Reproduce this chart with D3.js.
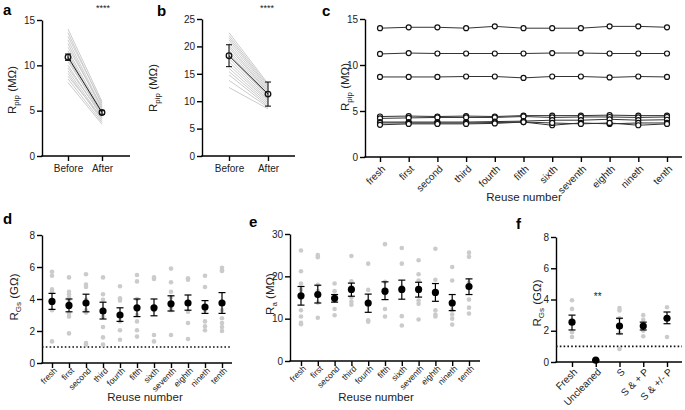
<!DOCTYPE html>
<html>
<head>
<meta charset="utf-8">
<script src="https://cdn.jsdelivr.net/npm/d3@7"></script>
<style>
  body { margin: 0; background: #fff; }
  text { font-family: "Liberation Sans", Arial, Helvetica, sans-serif; }
</style>
</head>
<body>
<svg id="fig" width="685" height="410"></svg>
<script>
"use strict";

// --- data ---
var pairLabels = ["Before", "After"];

// panel a : pipette resistance before / after (MOhm)
var aBefore = [14.0, 13.6, 13.2, 12.8, 12.4, 12.0, 11.6, 11.3, 11.0, 10.7, 10.4, 10.0, 9.7, 9.4, 9.1, 8.8, 8.5, 8.1];
var aAfter  = [6.0, 5.6, 5.8, 5.3, 5.1, 5.4, 4.9, 4.6, 4.9, 4.4, 4.7, 4.3, 4.5, 4.1, 3.9, 4.2, 3.7, 3.5];
var aMean = [10.9, 4.8];
var aErr  = [0.35, 0.2];

// panel b
var bBefore = [22.5, 22.0, 21.6, 21.2, 20.7, 20.2, 19.8, 19.3, 18.8, 18.3, 17.8, 17.2, 16.6, 16.0, 15.4, 14.8, 13.8, 12.5];
var bAfter  = [13.2, 12.9, 12.6, 12.3, 12.0, 11.7, 11.5, 11.2, 11.0, 10.8, 10.5, 10.2, 10.0, 9.7, 9.4, 9.1, 8.9, 8.6];
var bMean = [18.3, 11.3];
var bErr  = [2.0, 2.2];

// panel c : pipette resistance over reuses
var reuseLabels = ["fresh", "first", "second", "third", "fourth", "fifth", "sixth", "seventh", "eighth", "nineth", "tenth"];
var cLines = [
  [14.0, 14.1, 14.1, 14.0, 14.2, 14.0, 14.0, 14.0, 14.2, 14.2, 14.1],
  [11.2, 11.3, 11.25, 11.25, 11.25, 11.25, 11.3, 11.3, 11.25, 11.25, 11.25],
  [8.7, 8.7, 8.7, 8.75, 8.75, 8.6, 8.75, 8.75, 8.65, 8.75, 8.7],
  [4.4, 4.45, 4.4, 4.45, 4.4, 4.5, 4.5, 4.5, 4.55, 4.5, 4.5],
  [4.2, 4.25, 4.3, 4.3, 4.3, 4.4, 4.3, 4.35, 4.35, 4.3, 4.35],
  [3.8, 3.8, 3.8, 3.8, 3.85, 3.9, 4.0, 4.0, 4.1, 4.0, 4.05],
  [3.7, 3.7, 3.7, 3.7, 3.75, 3.8, 3.45, 3.7, 3.6, 3.7, 3.7],
  [3.5, 3.6, 3.6, 3.6, 3.65, 3.8, 3.7, 3.6, 3.7, 3.45, 3.6]
];

// panel d : seal resistance over reuses (GOhm)
var dPoints = [
  [5.7, 5.45, 4.6, 4.45, 3.9, 3.3, 1.35],
  [5.35, 4.45, 4.3, 4.1, 3.9, 3.5, 3.1, 2.9, 1.85],
  [5.55, 4.9, 4.75, 3.95, 3.3, 3.15, 1.25, 1.15],
  [5.35, 4.3, 3.95, 2.9, 2.25, 1.6, 1.15],
  [4.8, 4.05, 3.9, 3.05, 2.6, 2.05, 1.45],
  [5.5, 5.1, 4.0, 3.0, 2.6, 2.05, 1.65],
  [5.35, 5.25, 3.3, 1.75, 1.35],
  [5.9, 5.05, 4.45, 4.1, 3.4, 3.3, 1.75],
  [5.3, 5.2, 3.2, 2.5, 1.5],
  [5.45, 4.75, 3.3, 2.6, 2.3, 2.05],
  [5.95, 5.8, 5.75, 3.3, 2.8, 2.5, 2.25, 2.0]
];
var dMean = [3.85, 3.6, 3.75, 3.25, 3.0, 3.45, 3.45, 3.7, 3.75, 3.5, 3.75];
var dLo   = [3.35, 3.2, 3.2, 2.75, 2.6, 2.9, 2.95, 3.25, 3.3, 3.1, 3.1];
var dHi   = [4.35, 4.0, 4.3, 3.8, 3.45, 4.0, 4.0, 4.2, 4.25, 3.9, 4.4];

// panel e : access resistance over reuses (MOhm)
var ePoints = [
  [26.1, 21.2, 18.3, 16.8, 12.0, 10.5, 9.0, 8.7],
  [25.0, 24.5, 18.0, 16.5, 13.8, 10.2],
  [18.3, 16.5, 14.5, 12.3, 10.8],
  [24.8, 18.8, 17.5, 15.0, 14.0, 13.3],
  [23.0, 16.8, 14.0, 9.6, 9.3],
  [27.6, 18.7, 16.0, 12.3, 10.5],
  [26.7, 23.0, 17.5, 10.6, 8.4],
  [23.8, 20.5, 19.0, 14.3, 13.5, 9.8],
  [26.5, 19.2, 12.0, 11.0, 10.5],
  [22.2, 19.0, 12.0, 11.0, 10.0, 8.6],
  [25.6, 24.6, 18.5, 14.5, 12.6, 11.2]
];
var eMean = [15.4, 15.7, 14.8, 16.9, 13.7, 16.5, 16.9, 16.9, 16.2, 13.7, 17.6];
var eLo   = [13.2, 13.7, 13.9, 15.3, 11.5, 14.5, 14.6, 15.1, 14.1, 11.9, 15.7];
var eHi   = [17.6, 17.9, 15.7, 18.4, 15.8, 18.7, 19.1, 18.6, 18.3, 15.7, 19.4];

// panel f : seal resistance by cleaning method (GOhm)
var fLabels = ["Fresh", "Uncleaned", "S", "S & + P", "S & +/- P"];
var fPoints = [
  [3.95, 3.4, 1.9, 1.6],
  [0.1],
  [3.45, 3.3, 2.8, 1.85, 0.83],
  [3.0, 2.7, 2.25, 2.0, 1.65],
  [3.5, 2.8, 1.6]
];
var fMean = [2.55, 0.12, 2.3, 2.3, 2.8];
var fLo   = [2.05, 0.1, 1.8, 2.05, 2.45];
var fHi   = [3.0, 0.14, 2.8, 2.55, 3.2];

var svg = d3.select("#fig");
var grey = "#cbcbcb";

// builds axes for one panel, returns the scales
function makePanel(p) {
  var g = svg.append("g");
  var y = d3.scaleLinear().domain([0, p.ymax]).range([p.y0, p.y1]);
  var x = d3.scalePoint().domain(p.cats).range([p.xa, p.xb]);

  g.append("g")
    .attr("transform", "translate(" + p.x0 + ",0)")
    .call(d3.axisLeft(y).tickValues(p.yticks).tickSize(5).tickSizeOuter(0).tickPadding(2));

  var xa = g.append("g")
    .attr("transform", "translate(0," + p.y0 + ")")
    .call(d3.axisBottom(x).tickSize(5).tickSizeOuter(0).tickPadding(4));
  xa.select(".domain").remove();

  g.append("line")
    .attr("x1", p.x0 - 0.7).attr("x2", p.x1)
    .attr("y1", p.y0).attr("y2", p.y0)
    .attr("stroke", "#000").attr("stroke-width", 1.4);

  g.selectAll(".tick line, .domain").attr("stroke", "#000").attr("stroke-width", 1.4);
  g.selectAll(".tick text").attr("font-size", 10).attr("fill", "#222");

  if (p.rotate) {
    xa.selectAll(".tick text")
      .attr("text-anchor", "end")
      .attr("font-size", p.rotSize)
      .attr("y", null)
      .attr("dy", "0.35em")
      .attr("transform", "translate(3," + p.rotDy + ") rotate(-45)");
  }

  // y label with subscript
  var yl = g.append("text")
    .attr("transform", "translate(" + p.ylx + "," + p.yly + ") rotate(-90)")
    .attr("text-anchor", "middle")
    .attr("font-size", 11.5)
    .attr("fill", "#222");
  yl.append("tspan").text("R");
  yl.append("tspan").attr("font-size", 8).attr("dy", 3).text(p.sub);
  yl.append("tspan").attr("dy", -3).text(" " + p.unit);

  if (p.xtitle) {
    g.append("text")
      .attr("x", p.xtx).attr("y", p.xty)
      .attr("text-anchor", "middle")
      .attr("font-size", 11.5)
      .attr("fill", "#222")
      .text(p.xtitle);
  }

  svg.append("text")
    .attr("x", p.lx).attr("y", p.ly)
    .attr("font-size", 15).attr("font-weight", "bold")
    .text(p.letter);

  return { g: g, x: x, y: y };
}

function errBars(g, x, y, cats, lo, hi, cap, w) {
  cats.forEach(function(c, i) {
    var cx = x(c);
    g.append("line").attr("x1", cx).attr("x2", cx).attr("y1", y(lo[i])).attr("y2", y(hi[i]))
      .attr("stroke", "#000").attr("stroke-width", w);
    [lo[i], hi[i]].forEach(function(v) {
      g.append("line").attr("x1", cx - cap).attr("x2", cx + cap).attr("y1", y(v)).attr("y2", y(v))
        .attr("stroke", "#000").attr("stroke-width", w);
    });
  });
}

// paired panel (a, b)
function pairedPanel(p, before, after, mean, err, stars) {
  var P = makePanel(p);
  var g = P.g;
  before.forEach(function(v, i) {
    g.append("line")
      .attr("x1", P.x(pairLabels[0])).attr("y1", P.y(v))
      .attr("x2", P.x(pairLabels[1])).attr("y2", P.y(after[i]))
      .attr("stroke", grey).attr("stroke-width", 1);
  });
  g.append("line")
    .attr("x1", P.x(pairLabels[0])).attr("y1", P.y(mean[0]))
    .attr("x2", P.x(pairLabels[1])).attr("y2", P.y(mean[1]))
    .attr("stroke", "#222").attr("stroke-width", 1);
  errBars(g, P.x, P.y, pairLabels,
    mean.map(function(m, i) { return m - err[i]; }),
    mean.map(function(m, i) { return m + err[i]; }), 3, 1);
  g.selectAll(".mpt").data(pairLabels).enter().append("circle")
    .attr("cx", function(d) { return P.x(d); })
    .attr("cy", function(d, i) { return P.y(mean[i]); })
    .attr("r", 2.8)
    .attr("fill", "none").attr("stroke", "#111").attr("stroke-width", 1.3);
  g.append("text")
    .attr("x", p.starx).attr("y", p.stary)
    .attr("text-anchor", "middle").attr("font-size", 9).attr("fill", "#222")
    .text(stars);
}

pairedPanel({
  x0: 42, x1: 130, xa: 68, xb: 102, y0: 156, y1: 20, ymax: 15, yticks: [0, 5, 10, 15],
  cats: pairLabels, sub: "pip", unit: "(MΩ)", ylx: 16, yly: 90,
  letter: "a", lx: 3, ly: 15, starx: 103, stary: 11
}, aBefore, aAfter, aMean, aErr, "****");

pairedPanel({
  x0: 202, x1: 295, xa: 229, xb: 268, y0: 156, y1: 19, ymax: 25, yticks: [0, 5, 10, 15, 20, 25],
  cats: pairLabels, sub: "pip", unit: "(MΩ)", ylx: 157, yly: 88,
  letter: "b", lx: 157, ly: 16, starx: 267, stary: 11
}, bBefore, bAfter, bMean, bErr, "****");

// panel c
(function() {
  var P = makePanel({
    x0: 365, x1: 682, xa: 380, xb: 667, y0: 157, y1: 19, ymax: 15, yticks: [0, 5, 10, 15],
    cats: reuseLabels, rotate: true, rotSize: 10, rotDy: 10,
    sub: "pip", unit: "(MΩ)", ylx: 349, yly: 87,
    xtitle: "Reuse number", xtx: 524, xty: 201,
    letter: "c", lx: 322, ly: 16
  });
  var line = d3.line()
    .x(function(d, i) { return P.x(reuseLabels[i]); })
    .y(function(d) { return P.y(d); });
  cLines.forEach(function(vals) {
    P.g.append("path").attr("d", line(vals))
      .attr("fill", "none").attr("stroke", "#333").attr("stroke-width", 1);
  });
  cLines.forEach(function(vals) {
    P.g.selectAll(null).data(vals).enter().append("circle")
      .attr("cx", function(d, i) { return P.x(reuseLabels[i]); })
      .attr("cy", function(d) { return P.y(d); })
      .attr("r", 2.5)
      .attr("fill", "#fff").attr("stroke", "#111").attr("stroke-width", 1.2);
  });
})();

// scatter + mean/err panels (d, e, f)
function dotPanel(p, cats, pts, mean, lo, hi, dotted) {
  var P = makePanel(p);
  var g = P.g;
  if (dotted) {
    g.append("line")
      .attr("x1", p.x0).attr("x2", p.x1)
      .attr("y1", P.y(1)).attr("y2", P.y(1))
      .attr("stroke", "#111").attr("stroke-width", 1.6)
      .attr("stroke-dasharray", "1.6,2.2");
  }
  pts.forEach(function(vals, i) {
    g.selectAll(null).data(vals).enter().append("circle")
      .attr("cx", P.x(cats[i]))
      .attr("cy", function(d) { return P.y(d); })
      .attr("r", 2.3).attr("fill", grey);
  });
  errBars(g, P.x, P.y, cats, lo, hi, 3.5, 1.2);
  g.selectAll(null).data(mean).enter().append("circle")
    .attr("cx", function(d, i) { return P.x(cats[i]); })
    .attr("cy", function(d) { return P.y(d); })
    .attr("r", 3.6).attr("fill", "#000");
  return P;
}

dotPanel({
  x0: 42, x1: 232, xa: 52, xb: 222, y0: 363, y1: 235, ymax: 8, yticks: [0, 2, 4, 6, 8],
  cats: reuseLabels, rotate: true, rotSize: 8.5, rotDy: 6,
  sub: "Gs", unit: "(GΩ)", ylx: 18, yly: 297,
  xtitle: "Reuse  number", xtx: 145, xty: 401,
  letter: "d", lx: 3, ly: 224
}, reuseLabels, dPoints, dMean, dLo, dHi, true);

dotPanel({
  x0: 290, x1: 480, xa: 301, xb: 469, y0: 361, y1: 234, ymax: 30, yticks: [0, 10, 20, 30],
  cats: reuseLabels, rotate: true, rotSize: 8.5, rotDy: 6,
  sub: "a", unit: "(MΩ)", ylx: 274, yly: 294,
  xtitle: "Reuse  number", xtx: 376, xty: 401,
  letter: "e", lx: 249, ly: 227
}, reuseLabels, ePoints, eMean, eLo, eHi, false);

var F = dotPanel({
  x0: 556, x1: 682, xa: 572, xb: 667, y0: 362, y1: 237, ymax: 8, yticks: [0, 2, 4, 6, 8],
  cats: fLabels, rotate: true, rotSize: 10, rotDy: 8,
  sub: "Gs", unit: "(GΩ)", ylx: 541, yly: 303,
  letter: "f", lx: 516, ly: 229
}, fLabels, fPoints, fMean, fLo, fHi, true);

F.g.append("text")
  .attr("x", F.x("Uncleaned") + 2).attr("y", F.y(4.0))
  .attr("text-anchor", "middle").attr("font-size", 10).attr("fill", "#222")
  .text("**");
</script>
</body>
</html>
